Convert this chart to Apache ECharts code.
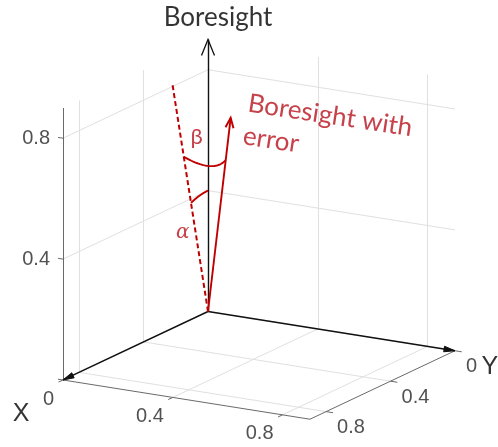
<!DOCTYPE html>
<html><head><meta charset="utf-8">
<script src="https://cdn.jsdelivr.net/npm/echarts@6/dist/echarts.min.js"></script>
<style>html,body{margin:0;padding:0;background:#fff}#c{width:498px;height:447px}</style>
</head><body><div id="c"></div>
<script>
// ---------------- data (3-D, axis units) ----------------
const tickValues = [0, 0.4, 0.8];
const tickLabels = ['0', '0.4', '0.8'];
const axisMax = 0.9;
const boresightVec = [0, 0, 0.9];          // black "Boresight" arrow
const xArrowVec = [0, 0.9, 0];             // black arrow labelled X
const yArrowVec = [0.9, 0, 0];             // black arrow labelled Y
const nominalVec = [0, 0.22, 0.805];       // red dashed line
const errorVec = [0.2, 0.2, 0.72];         // red "Boresight with error" arrow
const alphaArcRadius = 0.4;
const betaArcRadii = [0.57, 0.605];
const betaArcSag = [0.032, 0, -0.046];
const axisNames = ['X', 'Y', 'Boresight'];
const errorText = 'Boresight with\nerror';
const angleNames = ['α', 'β'];

// ---------------- projection (layout) ----------------
const W = 498, H = 447;
const P0 = [208, 311.5], UX = [274.4, 43.6], UY = [-161.1, 76.1], UZ = [0, -302.2];
function proj(p) {
  return [P0[0] + p[0] * UX[0] + p[1] * UY[0] + p[2] * UZ[0],
          P0[1] + p[0] * UX[1] + p[1] * UY[1] + p[2] * UZ[1]];
}
const add = (a, b) => a.map((v, i) => v + b[i]);
const scale = (a, s) => a.map(v => v * s);
const norm = a => Math.hypot(a[0], a[1], a[2]);
const unit = a => scale(a, 1 / norm(a));
function seg(a, b) { return { coords: [proj(a), proj(b)] }; }

const G = axisMax;
const gridSegs = [];
tickValues.forEach(v => {
  gridSegs.push(seg([v, 0, 0], [v, G, 0]));
  gridSegs.push(seg([0, v, 0], [G, v, 0]));
  if (v > 0) {
    gridSegs.push(seg([0, 0, v], [0, G, v]));
    gridSegs.push(seg([0, v, 0], [0, v, G]));
    gridSegs.push(seg([0, 0, v], [G, 0, v]));
    gridSegs.push(seg([v, 0, 0], [v, 0, G]));
  }
});
const axisSegs = [
  seg([0, G, 0], [G, G, 0]),
  seg([G, 0, 0], [G, G, 0]),
  seg([0, G, 0], [0, G, G])
];
tickValues.forEach(v => {
  axisSegs.push(seg([v, G, 0], [v, G + 0.028, 0]));
  axisSegs.push(seg([G, v, 0], [G + 0.025, v, 0]));
  axisSegs.push(seg([0, G, v], [-0.018, G, v]));
});

// arrow heads
function head(tail3, tip3, len, half) {
  const t = proj(tip3), b = proj(tail3);
  let dx = t[0] - b[0], dy = t[1] - b[1];
  const L = Math.hypot(dx, dy); dx /= L; dy /= L;
  const nx = -dy, ny = dx;
  return [[t[0] - len * dx + half * nx, t[1] - len * dy + half * ny], t,
          [t[0] - len * dx - half * nx, t[1] - len * dy - half * ny]];
}
const O3 = [0, 0, 0];
const heads = [
  { pts: head(O3, boresightVec, 16, 6.5), fill: false, color: '#111', w: 1.3 },
  { pts: head(O3, xArrowVec, 11, 2.8), fill: true, color: '#111', w: 1 },
  { pts: head(O3, yArrowVec, 11, 2.8), fill: true, color: '#111', w: 1 },
  { pts: head(O3, errorVec, 10, 4), fill: false, color: '#C00000', w: 2 }
];

// arcs
function slerpArc(a, b, r, n) {
  const ua = unit(a), ub = unit(b);
  const om = Math.acos(ua[0] * ub[0] + ua[1] * ub[1] + ua[2] * ub[2]);
  const pts = [];
  for (let i = 0; i <= n; i++) {
    const t = i / n;
    const s1 = Math.sin((1 - t) * om) / Math.sin(om), s2 = Math.sin(t * om) / Math.sin(om);
    pts.push(proj(scale(add(scale(ua, s1), scale(ub, s2)), r)));
  }
  return pts;
}
function bezArc(a, b, ra, rb, sag, n) {
  const p0 = scale(unit(a), ra), p2 = scale(unit(b), rb);
  const c = add(scale(add(p0, p2), 0.5), sag);
  const pts = [];
  for (let i = 0; i <= n; i++) {
    const t = i / n;
    const q = [0, 1, 2].map(k => (1 - t) * (1 - t) * p0[k] + 2 * (1 - t) * t * c[k] + t * t * p2[k]);
    pts.push(proj(q));
  }
  return pts;
}
const alphaArc = slerpArc(nominalVec, boresightVec, alphaArcRadius, 24);
const betaArc = bezArc(nominalVec, errorVec, betaArcRadii[0], betaArcRadii[1], betaArcSag, 30);

// labels
const tickFont = { fontFamily: "'Liberation Sans', Arial, sans-serif", fontSize: 20, color: '#262626' };
const labelData = [];
tickValues.forEach((v, i) => {
  labelData.push({ value: proj([v, G, 0]), label: Object.assign({ formatter: tickLabels[i], align: 'right', verticalAlign: 'middle', offset: [-9, 19] }, tickFont) });
  labelData.push({ value: proj([G, v, 0]), label: Object.assign({ formatter: tickLabels[i], align: 'left', verticalAlign: 'middle', offset: [11, 16] }, tickFont) });
  if (v > 0) labelData.push({ value: proj([0, G, v]), label: Object.assign({ formatter: tickLabels[i], align: 'right', verticalAlign: 'middle', offset: [-13, 0] }, tickFont) });
});
const bigFont = { fontFamily: "'Liberation Sans', Arial, sans-serif", fontSize: 25, color: '#000' };
labelData.push({ value: proj(xArrowVec), label: Object.assign({ formatter: axisNames[0], align: 'center', verticalAlign: 'middle', offset: [-42, 34] }, bigFont) });
labelData.push({ value: proj(yArrowVec), label: Object.assign({ formatter: axisNames[1], align: 'center', verticalAlign: 'middle', offset: [35, 16] }, bigFont) });
labelData.push({ value: proj(boresightVec), label: { formatter: axisNames[2], align: 'center', verticalAlign: 'middle', offset: [10, -22], fontFamily: 'Lato, sans-serif', fontSize: 26, color: '#000' } });
labelData.push({ value: proj(errorVec), label: { formatter: errorText, position: [20, -31], align: 'left', verticalAlign: 'top', rotate: -8.6, lineHeight: 33, fontFamily: 'Lato, sans-serif', fontSize: 26, color: '#B8121B' } });
labelData.push({ value: proj(scale(nominalVec, 0.772)), label: { formatter: angleNames[1], align: 'center', verticalAlign: 'middle', offset: [16, 0], fontFamily: 'Lato, sans-serif', fontSize: 22, color: '#B8121B' } });
labelData.push({ value: proj(scale(nominalVec, 0.347)), label: { formatter: angleNames[0], align: 'center', verticalAlign: 'middle', offset: [-13, 0], fontFamily: "'DejaVu Serif', serif", fontStyle: 'italic', fontSize: 20, color: '#B8121B' } });

const chart = echarts.init(document.getElementById('c'));
chart.setOption({
  animation: false,
  backgroundColor: '#fff',
  grid: { left: 0, right: 0, top: 0, bottom: 0 },
  xAxis: { type: 'value', min: 0, max: W, show: false },
  yAxis: { type: 'value', min: 0, max: H, inverse: true, show: false },
  series: [
    { type: 'lines', coordinateSystem: 'cartesian2d', silent: true, data: gridSegs,
      lineStyle: { color: '#e0e0e0', width: 1, opacity: 1 } },
    { type: 'lines', coordinateSystem: 'cartesian2d', silent: true, data: axisSegs,
      lineStyle: { color: '#6a6a6a', width: 1, opacity: 1 } },
    { type: 'lines', coordinateSystem: 'cartesian2d', silent: true,
      data: [seg(O3, boresightVec), seg(O3, xArrowVec), seg(O3, yArrowVec)],
      lineStyle: { color: '#111', width: 1.4, opacity: 1 } },
    { type: 'lines', coordinateSystem: 'cartesian2d', silent: true,
      data: [seg(O3, nominalVec)],
      lineStyle: { color: '#C00000', width: 2, type: [5, 3], opacity: 1 } },
    { type: 'lines', coordinateSystem: 'cartesian2d', silent: true, polyline: true,
      data: [seg(O3, errorVec), { coords: alphaArc }, { coords: betaArc }],
      lineStyle: { color: '#C00000', width: 1.9, opacity: 1 } },
    { type: 'custom', coordinateSystem: 'cartesian2d', silent: true, clip: false,
      data: heads.map(h => h.pts[1]),
      renderItem: (params, api) => {
        const h = heads[params.dataIndex];
        const pts = h.pts.map(p => api.coord(p));
        return h.fill
          ? { type: 'polygon', shape: { points: pts }, style: { fill: h.color, stroke: h.color, lineWidth: 1 } }
          : { type: 'polyline', shape: { points: pts }, style: { stroke: h.color, lineWidth: h.w, fill: 'none' } };
      } },
    { type: 'scatter', silent: true, symbolSize: 0, data: labelData,
      label: { show: true }, z: 10 }
  ]
});
</script></body></html>
